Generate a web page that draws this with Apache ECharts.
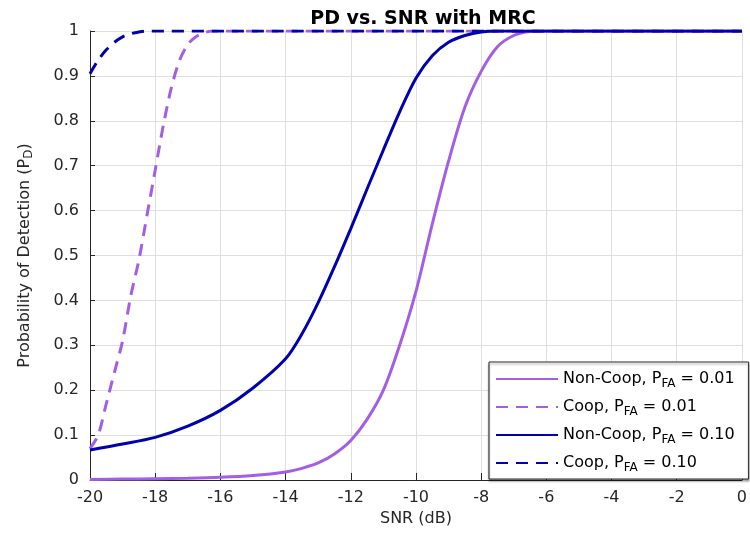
<!DOCTYPE html>
<html>
<head>
<meta charset="utf-8">
<script src="https://cdn.jsdelivr.net/npm/echarts@6/dist/echarts.min.js"></script>
<style>
html,body{margin:0;padding:0;background:#fff;}
#chart{width:750px;height:535px;}
</style>
</head>
<body>
<div id="chart"></div>
<script>
// ---- Data ----
const xTicks = [-20, -18, -16, -14, -12, -10, -8, -6, -4, -2, 0];
const yTicks = [0, 0.1, 0.2, 0.3, 0.4, 0.5, 0.6, 0.7, 0.8, 0.9, 1];

const snrNonCoop01 = [-20, -19, -18, -17, -16, -15, -14, -13.5, -13, -12.5, -12, -11.5, -11, -10.5, -10, -9.5, -9, -8.5, -8, -7.5, -7, -6.5, -6, 0];
const pdNonCoop01  = [0.001, 0.002, 0.003, 0.004, 0.006, 0.01, 0.018, 0.026, 0.038, 0.058, 0.088, 0.135, 0.2, 0.3, 0.42, 0.57, 0.71, 0.83, 0.91, 0.965, 0.99, 0.999, 1, 1];

const snrCoop01 = [-20, -19.75, -19.5, -19.25, -19, -18.75, -18.5, -18.25, -18, -17.75, -17.5, -17.25, -17, -16.75, -16.5, -16.25, 0];
const pdCoop01  = [0.07, 0.1, 0.17, 0.24, 0.31, 0.41, 0.49, 0.59, 0.69, 0.79, 0.875, 0.935, 0.97, 0.987, 0.996, 1, 1];

const snrNonCoop10 = [-20, -19, -18, -17, -16, -15, -14, -13.5, -13, -12.5, -12, -11.5, -11, -10.5, -10, -9.5, -9, -8.5, -8, -7.5, 0];
const pdNonCoop10  = [0.067, 0.08, 0.095, 0.12, 0.155, 0.205, 0.27, 0.325, 0.395, 0.475, 0.56, 0.648, 0.735, 0.82, 0.895, 0.945, 0.975, 0.99, 0.998, 1, 1];

const snrCoop10 = [-20, -19.75, -19.5, -19.25, -19, -18.75, -18.5, -18.25, 0];
const pdCoop10  = [0.905, 0.935, 0.958, 0.975, 0.987, 0.994, 0.998, 1, 1];

const seriesNames = ['Non-Coop, P{sub|FA} = 0.01', 'Coop, P{sub|FA} = 0.01', 'Non-Coop, P{sub|FA} = 0.10', 'Coop, P{sub|FA} = 0.10'];
const legendKeys = ['nc01', 'c01', 'nc10', 'c10'];

const PURPLE = '#A45EE5';
const BLUE = '#0000AE';
const TXT = '#262626';
const FONT = 'DejaVu Sans';

function pairs(xs, ys) { return xs.map((x, i) => [x, ys[i]]); }

const chart = echarts.init(document.getElementById('chart'), null, {renderer: 'canvas'});

function mkSeries(key, xs, ys, color, dashed) {
  return {
    name: key,
    type: 'line',
    data: pairs(xs, ys),
    showSymbol: false,
    symbol: 'none',
    smooth: 0.3,
    lineStyle: {color: color, width: 3, type: dashed ? [12, 8] : 'solid'},
    itemStyle: {color: color},
    emphasis: {disabled: true},
    animation: false
  };
}

const option = {
  animation: false,
  backgroundColor: '#fff',
  title: {
    text: 'PD vs. SNR with MRC',
    left: 418,
    textAlign: 'center',
    top: 5,
    textStyle: {fontFamily: FONT, fontSize: 19, fontWeight: 'bold', color: '#000'}
  },
  grid: {left: 90, right: 4, top: 31, bottom: 55, containLabel: false},
  xAxis: {
    type: 'value',
    min: -20, max: 0, interval: 2,
    name: 'SNR (dB)',
    nameLocation: 'middle',
    nameGap: 31,
    nameTextStyle: {fontFamily: FONT, fontSize: 16, color: TXT},
    axisLine: {show: true, onZero: false, lineStyle: {color: TXT, width: 1}},
    axisTick: {show: true, inside: true, length: 7, lineStyle: {color: TXT}},
    axisLabel: {fontFamily: FONT, fontSize: 16, color: TXT, margin: 10,
      formatter: v => xTicks.includes(v) ? String(v) : ''},
    splitLine: {show: true, lineStyle: {color: '#DFDFDF', width: 1}}
  },
  yAxis: {
    type: 'value',
    min: 0, max: 1, interval: 0.1,
    name: 'Probability of Detection (P{sub|D})',
    nameLocation: 'middle',
    nameGap: 55,
    nameRotate: 90,
    nameTextStyle: {fontFamily: FONT, fontSize: 16, color: TXT,
      rich: {sub: {fontFamily: FONT, fontSize: 12, color: TXT, padding: [8, 0, 0, 0]}}},
    axisLine: {show: true, onZero: false, lineStyle: {color: TXT, width: 1}},
    axisTick: {show: true, inside: true, length: 5, lineStyle: {color: TXT}},
    axisLabel: {fontFamily: FONT, fontSize: 16, color: TXT, margin: 11,
      formatter: v => {
        const t = yTicks.find(k => Math.abs(k - v) < 1e-9);
        return t === undefined ? '' : String(parseFloat(t.toFixed(1)));
      }},
    splitLine: {show: true, lineStyle: {color: '#DFDFDF', width: 1}}
  },
  legend: {
    orient: 'vertical',
    left: 489,
    top: 362,
    data: legendKeys,
    formatter: name => seriesNames[legendKeys.indexOf(name)],
    itemWidth: 62,
    itemHeight: 14,
    itemGap: 6,
    padding: [6, 14, 5, 6],
    backgroundColor: '#fff',
    borderColor: TXT,
    borderWidth: 1,
    shadowColor: 'rgba(0,0,0,0.35)',
    shadowOffsetY: 2,
    shadowBlur: 2,
    selectedMode: false,
    itemStyle: {opacity: 0},
    textStyle: {fontFamily: FONT, fontSize: 16, color: '#000', lineHeight: 20,
      rich: {sub: {fontFamily: FONT, fontSize: 12, color: '#000', padding: [10, 0, 0, 0], lineHeight: 20}}}
  },
  series: [
    mkSeries('nc01', snrNonCoop01, pdNonCoop01, PURPLE, false),
    mkSeries('c01', snrCoop01, pdCoop01, PURPLE, true),
    mkSeries('nc10', snrNonCoop10, pdNonCoop10, BLUE, false),
    mkSeries('c10', snrCoop10, pdCoop10, BLUE, true)
  ]
};
chart.setOption(option);
</script>
</body>
</html>
